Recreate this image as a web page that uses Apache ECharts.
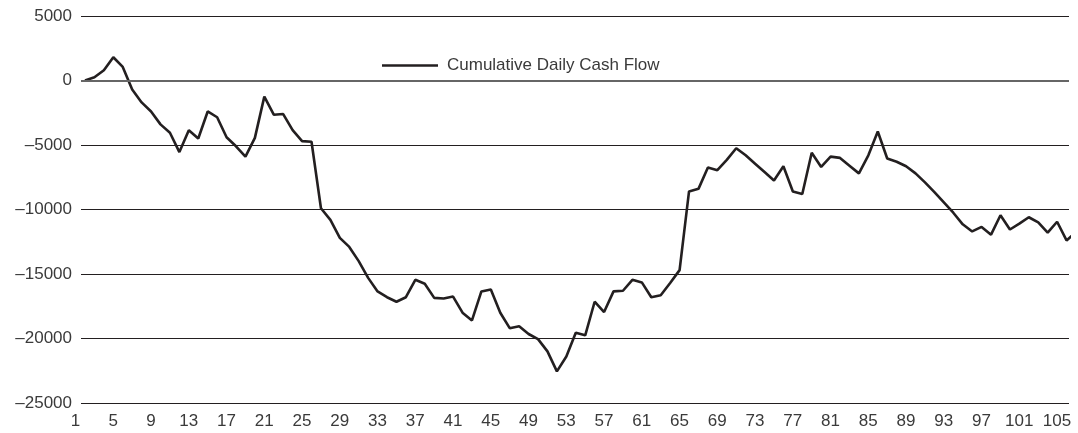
<!DOCTYPE html>
<html>
<head>
<meta charset="utf-8">
<style>
  html, body { margin: 0; padding: 0; background: #fff; }
  #chart { width: 1078px; height: 433px; }
</style>
<script src="https://cdn.jsdelivr.net/npm/echarts@6/dist/echarts.min.js"></script>
</head>
<body>
<div id="chart"></div>
<script>
// day numbers 1..106 and the running total
var days = [];
for (var d = 1; d <= 106; d++) days.push(d);

var cumulative = [
    0, 250, 800, 1800, 1050, -700, -1700, -2400, -3400, -4050,
    -5550, -3850, -4500, -2400, -2850, -4400, -5100, -5900, -4450, -1250,
    -2650, -2600, -3850, -4700, -4750, -9900, -10800, -12200, -12900, -14000,
    -15300, -16350, -16800, -17150, -16800, -15450, -15750, -16850, -16900, -16750,
    -18000, -18600, -16350, -16200, -18000, -19200, -19050, -19650, -20050, -21000,
    -22550, -21400, -19550, -19750, -17150, -17950, -16350, -16300, -15450, -15650,
    -16800, -16650, -15700, -14700, -8600, -8400, -6750, -6950, -6150, -5250,
    -5800, -6450, -7100, -7750, -6650, -8600, -8800, -5600, -6700, -5900,
    -6000, -6600, -7200, -5800, -3950, -6050, -6300, -6650, -7200, -7900,
    -8650, -9450, -10250, -11150, -11700, -11350, -11950, -10450, -11550, -11100,
    -10600, -11000, -11800, -10950, -12400, -11750
];

var xTickLabels = [1, 5, 9, 13, 17, 21, 25, 29, 33, 37, 41, 45, 49, 53, 57, 61, 65, 69, 73, 77, 81, 85, 89, 93, 97, 101, 105];
var yTicks = [-25000, -20000, -15000, -10000, -5000, 0, 5000];

var seriesName = 'Cumulative Daily Cash Flow';
var font = '"Liberation Sans", Arial, Helvetica, sans-serif';

var chart = echarts.init(document.getElementById('chart'));

var option = {
    animation: false,
    backgroundColor: '#ffffff',
    grid: { left: 81, right: 9, top: 16, bottom: 30, containLabel: false },
    legend: {
        left: 377, top: 52,
        icon: 'rect',
        itemWidth: 56, itemHeight: 2.6,
        textStyle: { fontFamily: font, fontSize: 17, color: '#3a3a3a', padding: [0, 0, 0, 4] },
        data: [seriesName]
    },
    xAxis: {
        type: 'value',
        min: 0.576,
        max: 105.26,
        axisLine: { show: false },
        axisTick: { show: false },
        splitLine: { show: false },
        axisLabel: {
            customValues: xTickLabels,
            margin: 10,
            padding: [0, 19, 0, 0],
            fontFamily: font, fontSize: 17, color: '#3a3a3a',
            formatter: function (v) { return String(Math.round(v)); }
        }
    },
    yAxis: {
        type: 'value',
        min: yTicks[0],
        max: yTicks[yTicks.length - 1],
        interval: 5000,
        axisLine: { show: false },
        axisTick: { show: false },
        splitLine: { lineStyle: { color: '#231f20', width: 1 } },
        axisLabel: {
            margin: 9,
            fontFamily: font, fontSize: 17, color: '#3a3a3a',
            formatter: function (v) { return String(v).replace('-', '\u2013'); }
        }
    },
    series: [{
        name: seriesName,
        type: 'line',
        symbol: 'none',
        clip: false,
        data: days.map(function (d, i) { return [d, cumulative[i]]; }),
        lineStyle: { color: '#231f20', width: 2.6 },
        itemStyle: { color: '#231f20' },
        markLine: {
            silent: true,
            symbol: 'none',
            label: { show: false },
            lineStyle: { color: '#666', width: 2, type: 'solid' },
            data: [{ yAxis: 0 }]
        },
        z: 3
    }]
};

chart.setOption(option);
window.onresize = function () { chart.resize(); };
</script>
</body>
</html>
